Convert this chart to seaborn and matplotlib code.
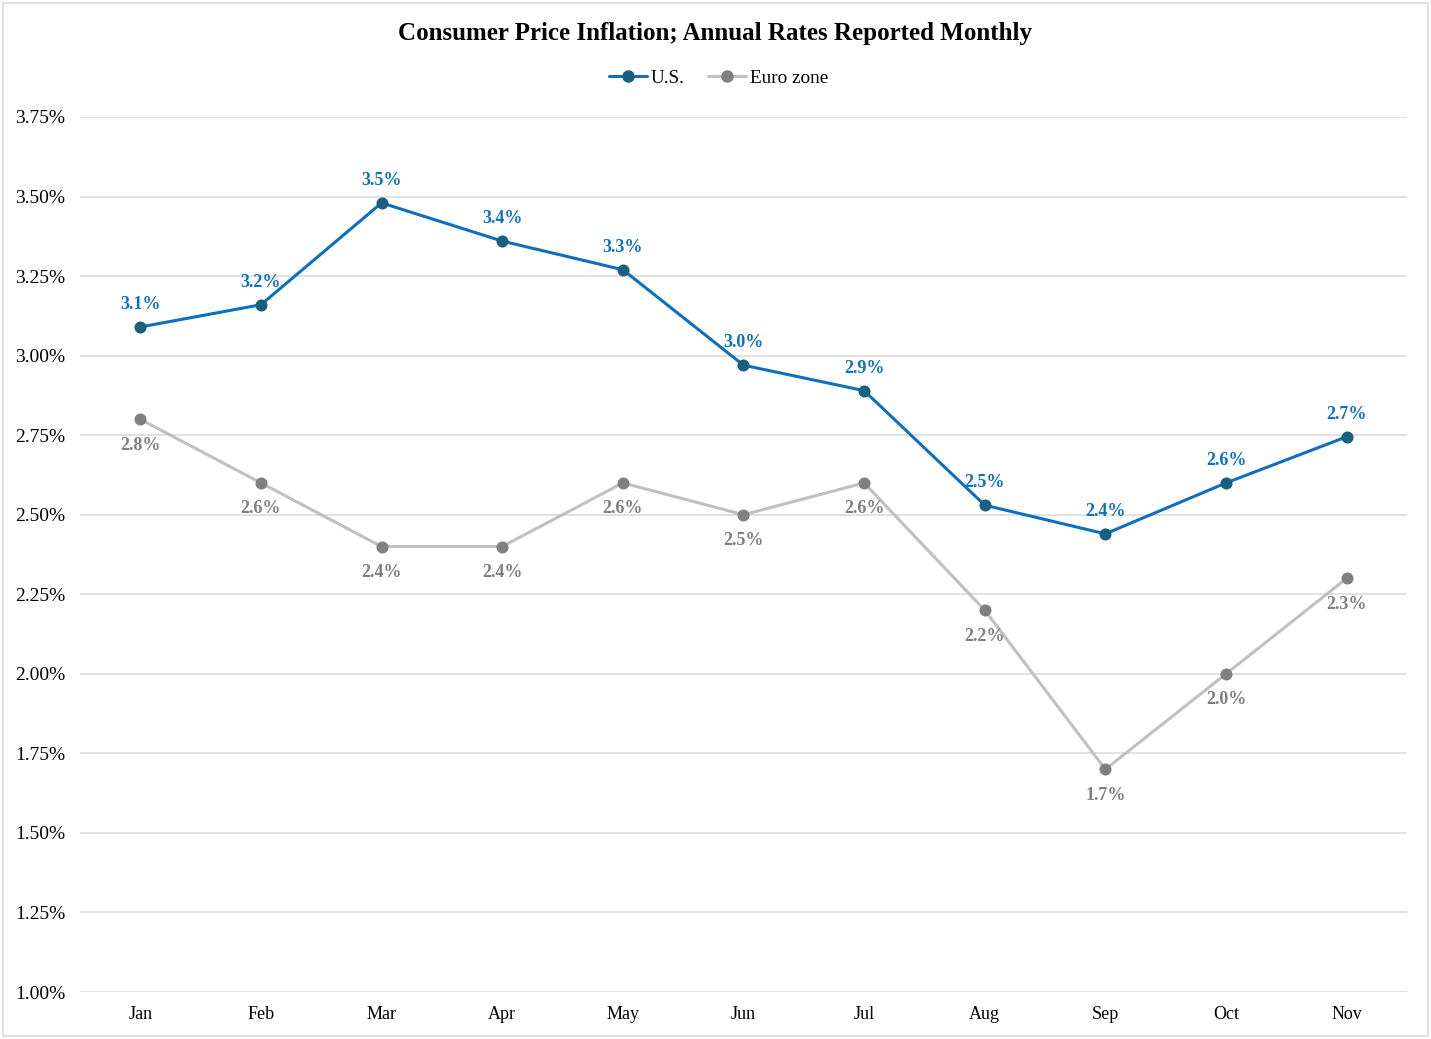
import matplotlib
matplotlib.use("Agg")
import matplotlib.pyplot as plt
import seaborn as sns
import pandas as pd
from matplotlib.patches import Rectangle
from matplotlib.lines import Line2D

months = ["Jan", "Feb", "Mar", "Apr", "May", "Jun", "Jul", "Aug", "Sep", "Oct", "Nov"]
us = [3.09, 3.16, 3.48, 3.36, 3.27, 2.97, 2.89, 2.53, 2.44, 2.60, 2.745]
euro = [2.8, 2.6, 2.4, 2.4, 2.6, 2.5, 2.6, 2.2, 1.7, 2.0, 2.3]
series_names = ["U.S.", "Euro zone"]
yticks = [1.00, 1.25, 1.50, 1.75, 2.00, 2.25, 2.50, 2.75, 3.00, 3.25, 3.50, 3.75]

sns.set_style("white")
plt.rcParams["font.family"] = ["Liberation Serif", "DejaVu Serif"]
plt.rcParams["text.color"] = "black"
plt.rcParams["xtick.color"] = "black"
plt.rcParams["ytick.color"] = "black"

df = pd.DataFrame({
    "month": months * 2,
    "x": list(range(len(months))) * 2,
    "value": us + euro,
    "series": [series_names[0]] * len(us) + [series_names[1]] * len(euro),
})

line_colors = {"U.S.": "#0c70bf", "Euro zone": "#c0c0c0"}
marker_colors = {"U.S.": "#17607f", "Euro zone": "#808080"}
label_colors = {"U.S.": "#0f70c0", "Euro zone": "#7f7f7f"}

fig = plt.figure(figsize=(14.31, 10.39), dpi=100)
ax = fig.add_axes([0.0559, 0.0452, 0.9273, 0.8422])

sns.lineplot(data=df, x="x", y="value", hue="series", palette=line_colors,
             linewidth=2.2, ax=ax, legend=False, sort=False)
for name in series_names:
    sub = df[df["series"] == name]
    ax.scatter(sub["x"], sub["value"], s=75, color=marker_colors[name], zorder=5, linewidths=0)

for i, v in enumerate(us):
    ax.annotate(f"{v:.1f}%", (i, v), xytext=(0, 10), textcoords="offset points",
                ha="center", va="bottom", fontsize=13, fontweight="bold", color=label_colors["U.S."])
for i, v in enumerate(euro):
    ax.annotate(f"{v:.1f}%", (i, v), xytext=(0, -12.5), textcoords="offset points",
                ha="center", va="top", fontsize=13, fontweight="bold", color=label_colors["Euro zone"])

ax.set_xlim(-0.5, len(months) - 0.5)
ax.set_ylim(1.0, 3.75)
ax.set_yticks(yticks)
ax.set_yticklabels([f"{t:.2f}%" for t in yticks], fontsize=14)
ax.set_xticks(range(len(months)))
ax.set_xticklabels(months, fontsize=13)
ax.tick_params(axis="x", length=0, pad=10)
ax.tick_params(axis="y", length=0, pad=10.5)
ax.grid(axis="y", color="#d9d9d9", linewidth=1.1)
ax.set_axisbelow(True)
for s in ax.spines.values():
    s.set_visible(False)
ax.set_xlabel("")
ax.set_ylabel("")

fig.text(0.5, 0.968, "Consumer Price Inflation; Annual Rates Reported Monthly",
         ha="center", va="center", fontsize=18, fontweight="bold")

handles = [Line2D([0], [0], color=line_colors[n], lw=2.2, marker="o", markersize=8,
                  markerfacecolor=marker_colors[n], markeredgecolor=marker_colors[n]) for n in series_names]
fig.legend(handles, series_names, loc="center", bbox_to_anchor=(0.502, 0.925), ncol=2,
           frameon=False, fontsize=13.75, handlelength=2.0, handletextpad=0.2, columnspacing=1.2)

fig.add_artist(Rectangle((0.002, 0.003), 0.996, 0.994, transform=fig.transFigure,
                         fill=False, edgecolor="#d9d9d9", linewidth=1.2))

fig.savefig("out.png", dpi=100, facecolor="white")
